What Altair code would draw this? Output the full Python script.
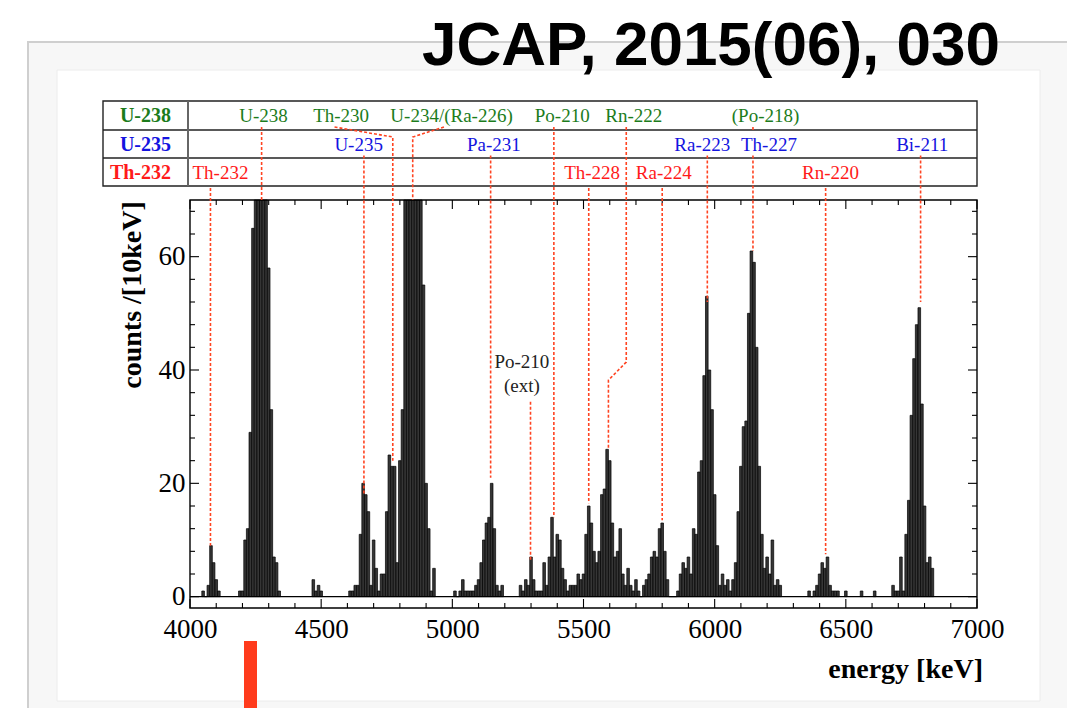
import altair as alt
import pandas as pd

# ---------------- histogram data: counts per 10 keV bin, listed by bin centre (keV) ----------------
th232_start = 4050
th232_counts = [1, 0, 2, 9, 6, 3, 1]
u238_start = 4190
u238_counts = [1, 1, 10, 12, 29, 65, 95, 135, 150, 125, 85, 58, 33, 7, 6, 1]
low_start = 4470
low_counts = [3, 1, 2, 1]
u235_start = 4610
u235_counts = [1, 1, 2, 2, 11, 20, 18, 15, 2, 10,
               5, 1, 4, 4, 15, 25, 23, 23, 6, 24,
               33, 85, 130, 170, 190, 175, 135, 90, 55, 20,
               12, 1, 5]
pa231_start = 5010
pa231_counts = [1, 0, 1, 3, 1, 1, 1, 1, 2, 3,
                6, 10, 13, 14, 20, 12, 2, 1, 2]
mid_start = 5260
mid_counts = [2, 1, 3, 2, 7, 3, 1, 1, 1, 6,
              2, 7, 14, 7, 11, 10, 5, 3, 1, 2,
              2, 2, 4, 3, 4, 11, 16, 13, 8, 6,
              8, 18, 19, 26, 24, 13, 7, 8, 12, 4,
              2, 5, 2, 1, 3, 1, 0, 2, 3, 4,
              7, 8, 7, 12, 13, 8, 3, 0, 0, 0,
              1, 4, 6, 5, 7, 4, 12, 11, 22, 24,
              39, 53, 40, 33, 18, 9, 2, 4, 2, 3,
              1, 3, 6, 15, 23, 30, 31, 50, 61, 59,
              44, 23, 11, 5, 7, 4, 10, 2, 3, 2]
rn220_start = 6360
rn220_counts = [1, 0, 1, 2, 4, 6, 5, 7, 2, 1, 1, 1]
single_centres = [6500, 6560, 6610]
single_counts = [1, 1, 1]
bi211_start = 6680
bi211_counts = [2, 1, 1, 7, 1, 11, 17, 32, 42, 48, 51, 34, 16, 6, 7, 5]

# ---------------- decay-chain table ----------------
chain_names = ["U-238", "U-235", "Th-232"]
chain_colors = ["#1c7c1c", "#1414e0", "#ff1a1a"]
label_colors = ["#2a8f2a", "#2222ff", "#ff2a2a"]

row0_labels = ["U-238", "Th-230", "U-234/(Ra-226)", "Po-210", "Rn-222", "(Po-218)"]
row0_label_e = [4280, 4576, 4997, 5419, 5692, 6194]
row1_labels = ["U-235", "Pa-231", "Ra-223", "Th-227", "Bi-211"]
row1_label_e = [4643, 5158, 5953, 6207, 6791]
row2_labels = ["Th-232", "Th-228", "Ra-224", "Rn-220"]
row2_label_e = [4116, 5533, 5806, 6442]

# marker lines: vertices (energy keV, level); level is counts, or a table anchor name
line_paths = {
    "U-238": [(4273, "r0"), (4273, 70)],
    "Th-230": [(4551, "r0"), (4773, "r0k"), (4773, 24)],
    "U-234": [(4968, "r0"), (4849, "r0k"), (4849, 70)],
    "Po-210": [(5387, "r0"), (5387, 14)],
    "Rn-222": [(5663, "r0"), (5663, 41.4), (5595, 38.2), (5595, 26.2)],
    "Po-218": [(6146, "r0"), (6146, "r0b")],
    "U-235": [(4663, "r1"), (4663, 18)],
    "Pa-231": [(5146, "r1"), (5146, 21)],
    "Ra-223": [(5972, "r1"), (5972, 52)],
    "Th-227": [(6146, "r1"), (6146, 61)],
    "Bi-211": [(6785, "r1"), (6785, 52)],
    "Th-232": [(4078, "r2"), (4078, 9)],
    "Th-228": [(5520, "r2"), (5520, 16.5)],
    "Ra-224": [(5800, "r2"), (5800, 13.5)],
    "Rn-220": [(6423, "r2"), (6423, 7.5)],
    "Po-210ext": [(5298, 34.4), (5298, 6.5)],
}
ext_label_e = 5265
ext_label_lines = ["Po-210", "(ext)"]
ext_label_levels = [41.5, 37.2]

x_tick_values = list(range(4000, 7001, 500))
y_tick_values = [0, 20, 40, 60]

# ---------------- geometry ----------------
W, H = 787, 507
E0, E1 = 4000, 7000
Y_BOT, Y_PLOT_TOP = -2, 70
TABLE_H = 99  # pixels of the view above the plot frame used by the table
PX = (H - TABLE_H) / (Y_PLOT_TOP - Y_BOT)   # pixels per count
Y_TOP = Y_PLOT_TOP + TABLE_H / PX
PXE = W / (E1 - E0)                          # pixels per keV

def px_to_count(px):
    return Y_TOP - px / PX

anchors = {"r0": px_to_count(26), "r0k": px_to_count(36), "r0b": px_to_count(29),
           "r1": px_to_count(54.5), "r2": px_to_count(87)}
row_centres = [px_to_count(14.5), px_to_count(43.5), px_to_count(71.5)]

XS = alt.Scale(domain=[E0, E1], nice=False, zero=False)
YS = alt.Scale(domain=[Y_BOT, Y_TOP], nice=False, zero=False)
SERIF = "Liberation Serif"

XAX = alt.Axis(values=x_tick_values, format="d", ticks=False, domain=False, grid=False,
               labelFont=SERIF, labelFontSize=27, labelColor="black", labelPadding=8,
               labelFlush=False, labelOverlap=False, title=None, zindex=5)
YAX = alt.Axis(values=y_tick_values, format="d", ticks=False, domain=False, grid=False,
               labelFont=SERIF, labelFontSize=27, labelColor="black", labelPadding=5,
               labelOverlap=False, title=None, zindex=5)

# ---------------- tables ----------------
centres, counts = [], []
for start, vals in [(th232_start, th232_counts), (u238_start, u238_counts),
                    (low_start, low_counts), (u235_start, u235_counts),
                    (pa231_start, pa231_counts), (mid_start, mid_counts),
                    (rn220_start, rn220_counts), (bi211_start, bi211_counts)]:
    for i, v in enumerate(vals):
        centres.append(start + 10 * i)
        counts.append(v)
centres += single_centres
counts += single_counts
hist = pd.DataFrame({"centre": centres, "count": counts})

lab_rows = []
for r, (names, es) in enumerate([(row0_labels, row0_label_e), (row1_labels, row1_label_e),
                                 (row2_labels, row2_label_e)]):
    for n, e in zip(names, es):
        lab_rows.append({"label": n, "e": e, "lvl": row_centres[r], "row": chain_names[r]})
labels = pd.DataFrame(lab_rows)
heads = pd.DataFrame({"label": chain_names, "lvl": row_centres, "row": chain_names})

seg_rows = []
for name, pts in line_paths.items():
    for i, (e, lv) in enumerate(pts):
        seg_rows.append({"name": name, "idx": i, "e": e,
                         "lvl": anchors[lv] if isinstance(lv, str) else lv})
segs = pd.DataFrame(seg_rows)

tick_rows = []
for e in range(E0, E1 + 1, 100):
    L = (9 if e % 500 == 0 else 5) / PX
    tick_rows.append({"x": e, "x2": e, "y": Y_BOT, "y2": Y_BOT + L})
    tick_rows.append({"x": e, "x2": e, "y": Y_PLOT_TOP, "y2": Y_PLOT_TOP - L})
for c in range(0, Y_PLOT_TOP, 4):
    L = (9 if c % 20 == 0 else 5) / PXE
    tick_rows.append({"x": E0, "x2": E0 + L, "y": c, "y2": c})
    tick_rows.append({"x": E1, "x2": E1 - L, "y": c, "y2": c})
ticks = pd.DataFrame(tick_rows)
frame = pd.DataFrame({"x": [E0], "x2": [E1], "y": [Y_BOT], "y2": [Y_PLOT_TOP]})
zero = pd.DataFrame({"x": [E0], "x2": [E1], "y": [0]})
one = pd.DataFrame({"k": [0]})

color_scale = alt.Scale(domain=chain_names, range=label_colors)
head_scale = alt.Scale(domain=chain_names, range=chain_colors)

# ---------------- layers ----------------
panel = alt.Chart(one).mark_rect(fill="#f7f7f7", stroke="#cfcfcf", strokeWidth=2).encode(
    x=alt.value(-162), x2=alt.value(880), y=alt.value(-59), y2=alt.value(700))
inner = alt.Chart(one).mark_rect(fill="white", stroke="#ececec", strokeWidth=1).encode(
    x=alt.value(-133), x2=alt.value(850), y=alt.value(-31), y2=alt.value(600))
title = alt.Chart(one).mark_text(text="JCAP, 2015(06), 030", font="Liberation Sans",
                                 fontWeight="bold", fontSize=62, align="right",
                                 baseline="alphabetic", color="black").encode(
    x=alt.value(810), y=alt.value(-36))

tbl_box = alt.Chart(one).mark_rect(fillOpacity=0, stroke="#222", strokeWidth=1.4).encode(
    x=alt.value(-87), x2=alt.value(W), y=alt.value(0), y2=alt.value(85))
tbl_h1 = alt.Chart(one).mark_rule(color="#222", strokeWidth=1.4).encode(
    x=alt.value(-87), x2=alt.value(W), y=alt.value(29))
tbl_h2 = alt.Chart(one).mark_rule(color="#222", strokeWidth=1.4).encode(
    x=alt.value(-87), x2=alt.value(W), y=alt.value(57))
tbl_v = alt.Chart(one).mark_rule(color="#666", strokeWidth=2).encode(
    x=alt.value(-2), y=alt.value(0), y2=alt.value(85))

head_text = alt.Chart(heads).mark_text(font=SERIF, fontWeight="bold", fontSize=20,
                                       align="right", baseline="middle").encode(
    x=alt.value(-19), y=alt.Y("lvl:Q", scale=YS, axis=YAX), text="label:N",
    color=alt.Color("row:N", scale=head_scale, legend=None))
lab_text = alt.Chart(labels).mark_text(font=SERIF, fontSize=19, align="center",
                                       baseline="middle").encode(
    x=alt.X("e:Q", scale=XS, axis=XAX), y=alt.Y("lvl:Q", scale=YS, axis=YAX), text="label:N",
    color=alt.Color("row:N", scale=color_scale, legend=None))

bars = alt.Chart(hist).transform_calculate(
    lo="datum.centre - 5", hi="datum.centre + 5", top="min(datum.count, 70)", base="0"
).mark_rect(fill="#363636", stroke="#000000", strokeWidth=0.7).encode(
    x=alt.X("lo:Q", scale=XS, axis=XAX), x2="hi:Q",
    y=alt.Y("top:Q", scale=YS, axis=YAX), y2="base:Q")

zero_line = alt.Chart(zero).mark_rule(color="black", strokeWidth=1.2).encode(
    x=alt.X("x:Q", scale=XS, axis=XAX), x2="x2:Q", y=alt.Y("y:Q", scale=YS, axis=YAX))
frame_rect = alt.Chart(frame).mark_rect(fillOpacity=0, stroke="black", strokeWidth=1.4).encode(
    x=alt.X("x:Q", scale=XS, axis=XAX), x2="x2:Q",
    y=alt.Y("y:Q", scale=YS, axis=YAX), y2="y2:Q")
tick_marks = alt.Chart(ticks).mark_rule(color="black", strokeWidth=1.1).encode(
    x=alt.X("x:Q", scale=XS, axis=XAX), x2="x2:Q",
    y=alt.Y("y:Q", scale=YS, axis=YAX), y2="y2:Q")

marker_lines = alt.Chart(segs).mark_line(color="#ff4422", strokeWidth=1.6,
                                         strokeDash=[3, 2]).encode(
    x=alt.X("e:Q", scale=XS, axis=XAX), y=alt.Y("lvl:Q", scale=YS, axis=YAX),
    detail="name:N", order="idx:Q")

ext_df = pd.DataFrame({"label": ext_label_lines, "e": [ext_label_e] * 2, "lvl": ext_label_levels})
ext_text = alt.Chart(ext_df).mark_text(font=SERIF, fontSize=19, color="#222",
                                       align="center", baseline="middle").encode(
    x=alt.X("e:Q", scale=XS, axis=XAX), y=alt.Y("lvl:Q", scale=YS, axis=YAX), text="label:N")

ytitle = alt.Chart(one).mark_text(text="counts /[10keV]", font=SERIF, fontWeight="bold",
                                  fontSize=28, angle=270, align="center",
                                  baseline="middle", color="black").encode(
    x=alt.value(-57), y=alt.value(194))
xtitle = alt.Chart(one).mark_text(text="energy [keV]", font=SERIF, fontWeight="bold",
                                  fontSize=28, align="right", baseline="middle",
                                  color="black").encode(
    x=alt.value(793), y=alt.value(569))
scribble = alt.Chart(one).mark_rect(color="#ff3b1c").encode(
    x=alt.value(54), x2=alt.value(67), y=alt.value(540), y2=alt.value(610))

chart = alt.layer(
    panel, inner, title, tbl_box, tbl_h1, tbl_h2, tbl_v, head_text, lab_text,
    bars, zero_line, frame_rect, tick_marks, marker_lines, ext_text,
    ytitle, xtitle, scribble
).properties(
    width=W, height=H,
    autosize=alt.AutoSizeParams(type="none"),
    padding={"left": 182, "top": 93, "right": 90, "bottom": 100},
    background="white",
).configure_view(stroke=None)

chart.save("out.html", embed_options={"renderer": "svg", "actions": False})
